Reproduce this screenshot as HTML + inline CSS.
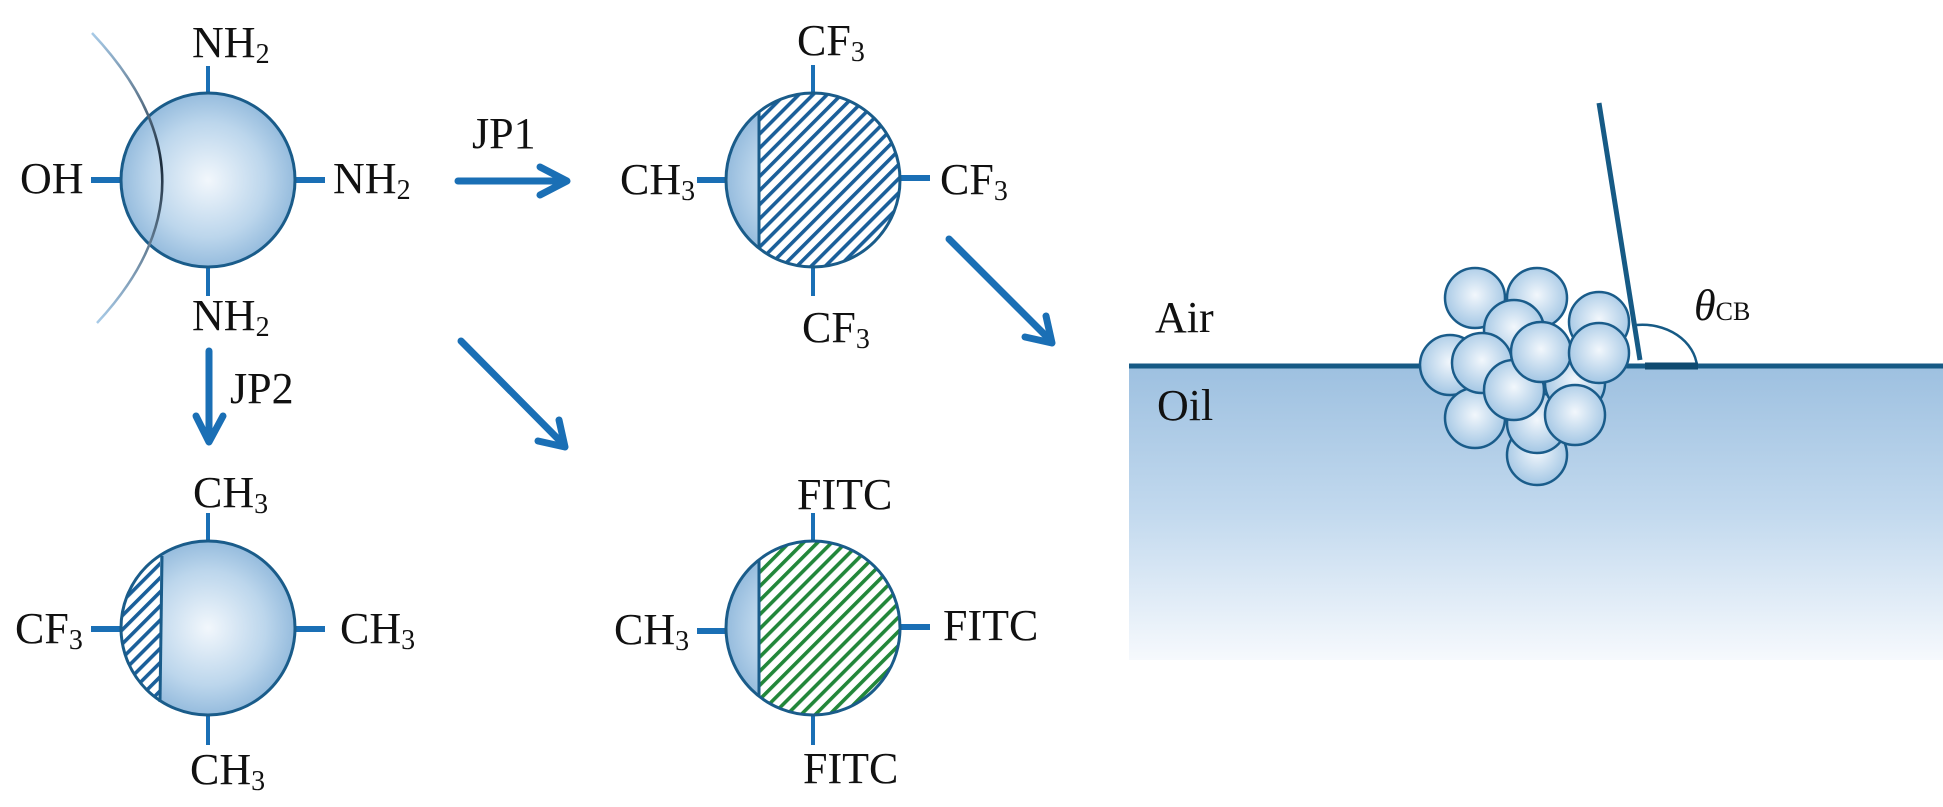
<!DOCTYPE html>
<html><head><meta charset="utf-8"><style>html,body{margin:0;padding:0;background:#fff}svg{display:block}text{font-family:"Liberation Serif","Times New Roman",serif;font-size:44px;fill:#111}</style></head><body>
<svg width="1943" height="807" viewBox="0 0 1943 807" xmlns="http://www.w3.org/2000/svg">
<defs>
<radialGradient id="sg" cx="0.5" cy="0.5" r="0.55"><stop offset="0" stop-color="#f2f7fc"/><stop offset="0.6" stop-color="#bcd6ec"/><stop offset="1" stop-color="#8ab4d9"/></radialGradient>
<radialGradient id="pg" cx="0.5" cy="0.45" r="0.6"><stop offset="0" stop-color="#f2f7fc"/><stop offset="1" stop-color="#9cc2e2"/></radialGradient>
<linearGradient id="oil" x1="0" y1="0" x2="0" y2="1"><stop offset="0" stop-color="#9dc0e0"/><stop offset="0.5" stop-color="#c2d9ee"/><stop offset="1" stop-color="#f6f9fd"/></linearGradient>
<linearGradient id="arc" x1="0" y1="0" x2="0" y2="1"><stop offset="0" stop-color="#a8cbe8"/><stop offset="0.45" stop-color="#1a2a3a"/><stop offset="1" stop-color="#a8cbe8"/></linearGradient>
<pattern id="hb" width="10" height="10" patternUnits="userSpaceOnUse" patternTransform="rotate(45)"><rect width="10" height="10" fill="#fff"/><rect width="3.6" height="10" fill="#1a5f9a"/></pattern>
<pattern id="hg" width="10" height="10" patternUnits="userSpaceOnUse" patternTransform="rotate(45)"><rect width="10" height="10" fill="#fff"/><rect width="3.6" height="10" fill="#22873a"/></pattern>
<clipPath id="c2"><circle cx="813" cy="180" r="87"/></clipPath>
<clipPath id="c4"><circle cx="813" cy="628" r="87"/></clipPath>
<clipPath id="c3"><circle cx="208" cy="628" r="87"/></clipPath>
</defs>
<g stroke="#1a6fb5" fill="none">
<line x1="208" y1="66" x2="208" y2="95" stroke-width="4"/><line x1="208" y1="266" x2="208" y2="296" stroke-width="4"/>
<line x1="91" y1="180" x2="121" y2="180" stroke-width="6"/><line x1="295" y1="180" x2="325" y2="180" stroke-width="6"/>
<line x1="813" y1="65" x2="813" y2="93" stroke-width="4"/><line x1="813" y1="267" x2="813" y2="296" stroke-width="4"/>
<line x1="697" y1="180" x2="726" y2="180" stroke-width="6"/><line x1="900" y1="178" x2="930" y2="178" stroke-width="6"/>
<line x1="208" y1="513" x2="208" y2="541" stroke-width="4"/><line x1="208" y1="715" x2="208" y2="745" stroke-width="4"/>
<line x1="91" y1="629" x2="121" y2="629" stroke-width="6"/><line x1="295" y1="629" x2="325" y2="629" stroke-width="6"/>
<line x1="813" y1="513" x2="813" y2="541" stroke-width="4"/><line x1="813" y1="715" x2="813" y2="745" stroke-width="4"/>
<line x1="697" y1="631" x2="726" y2="631" stroke-width="6"/><line x1="900" y1="627" x2="930" y2="627" stroke-width="6"/>
<g stroke-width="7" stroke-linecap="round" stroke-linejoin="round">
<line x1="458" y1="181" x2="566" y2="181"/><polyline points="540,167 567,181 540,195"/>
<line x1="209" y1="351" x2="209" y2="440"/><polyline points="196,416 209,442 223,416"/>
<line x1="949" y1="239" x2="1050" y2="340"/><polyline points="1025,337 1052,343 1046,316"/>
<line x1="461" y1="341" x2="563" y2="444"/><polyline points="538,441 565,447 559,420"/>
</g>
</g>
<circle cx="208" cy="180" r="87" fill="url(#sg)" stroke="#1a5c8a" stroke-width="3"/>
<path d="M92,33 Q230,180 97,323" fill="none" stroke="url(#arc)" stroke-width="2.5"/>
<circle cx="813" cy="180" r="87" fill="url(#sg)"/>
<rect x="759" y="80" width="160" height="200" fill="url(#hb)" clip-path="url(#c2)"/>
<line x1="759" y1="112" x2="759" y2="248" stroke="#1a5c8a" stroke-width="3"/>
<circle cx="813" cy="180" r="87" fill="none" stroke="#1a5c8a" stroke-width="3"/>
<circle cx="208" cy="628" r="87" fill="url(#sg)"/>
<polygon points="100,530 162,530 160,540 160,720 100,720" fill="url(#hb)" clip-path="url(#c3)"/>
<line x1="162" y1="556" x2="160" y2="702" stroke="#1a5c8a" stroke-width="3"/>
<circle cx="208" cy="628" r="87" fill="none" stroke="#1a5c8a" stroke-width="3"/>
<circle cx="813" cy="628" r="87" fill="url(#sg)"/>
<rect x="759" y="530" width="160" height="200" fill="url(#hg)" clip-path="url(#c4)"/>
<line x1="759" y1="560" x2="759" y2="696" stroke="#1a5c8a" stroke-width="3"/>
<circle cx="813" cy="628" r="87" fill="none" stroke="#1a5c8a" stroke-width="3"/>
<text x="192" y="57">NH<tspan font-size="28" dy="6">2</tspan></text>
<text x="20" y="193">OH</text>
<text x="333" y="193">NH<tspan font-size="28" dy="6">2</tspan></text>
<text x="192" y="330">NH<tspan font-size="28" dy="6">2</tspan></text>
<text x="472" y="148">JP1</text>
<text x="230" y="403">JP2</text>
<text x="797" y="55">CF<tspan font-size="28" dy="6">3</tspan></text>
<text x="620" y="194">CH<tspan font-size="28" dy="6">3</tspan></text>
<text x="940" y="194">CF<tspan font-size="28" dy="6">3</tspan></text>
<text x="802" y="342">CF<tspan font-size="28" dy="6">3</tspan></text>
<text x="193" y="507">CH<tspan font-size="28" dy="6">3</tspan></text>
<text x="15" y="643">CF<tspan font-size="28" dy="6">3</tspan></text>
<text x="340" y="643">CH<tspan font-size="28" dy="6">3</tspan></text>
<text x="190" y="784">CH<tspan font-size="28" dy="6">3</tspan></text>
<text x="797" y="509">FITC</text>
<text x="614" y="644">CH<tspan font-size="28" dy="6">3</tspan></text>
<text x="943" y="640">FITC</text>
<text x="803" y="783">FITC</text>
<rect x="1129" y="365" width="816" height="295" fill="url(#oil)"/>
<line x1="1129" y1="366" x2="1950" y2="366" stroke="#165a85" stroke-width="5"/>
<text x="1155" y="332">Air</text>
<text x="1157" y="420">Oil</text>
<g fill="url(#pg)" stroke="#1a5c8a" stroke-width="2.5">
<circle cx="1537" cy="455" r="30"/>
<circle cx="1537" cy="423" r="30"/>
<circle cx="1575" cy="383" r="30"/>
<circle cx="1599" cy="322" r="30"/>
<circle cx="1475" cy="298" r="30"/>
<circle cx="1537" cy="298" r="30"/>
<circle cx="1450" cy="365" r="30"/>
<circle cx="1475" cy="418" r="30"/>
<circle cx="1514" cy="330" r="30"/>
<circle cx="1482" cy="363" r="30"/>
<circle cx="1575" cy="415" r="30"/>
<circle cx="1514" cy="390" r="30"/>
<circle cx="1541" cy="352" r="30"/>
<circle cx="1599" cy="353" r="30"/>
</g>
<line x1="1599" y1="103" x2="1640" y2="360" stroke="#165a85" stroke-width="5"/>
<path d="M1636,325 A55,45 0 0 1 1697,366" fill="none" stroke="#165a85" stroke-width="2.5"/>
<line x1="1645" y1="366" x2="1698" y2="366" stroke="#0f4a70" stroke-width="7"/>
<text x="1694" y="320" font-style="italic">θ<tspan font-style="normal" font-size="26">CB</tspan></text>
</svg>
</body></html>
